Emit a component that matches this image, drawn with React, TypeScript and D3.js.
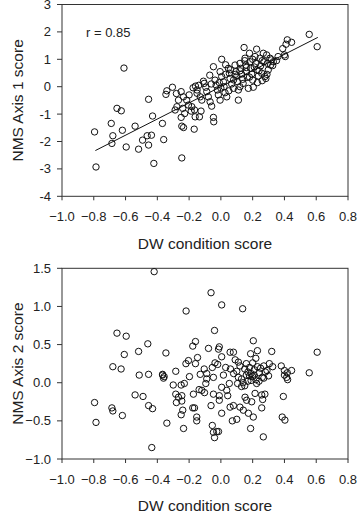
import React from "react";
import * as d3 from "d3";

// ---- Data ----
const topX = [
  -0.795, -0.786, -0.69, -0.68, -0.686, -0.62, -0.596, -0.54, -0.518, -0.493, -0.464, -0.437, -0.455, -0.422, -0.43,
  -0.368, -0.36, -0.246, -0.25, -0.246, -0.235, -0.168, -0.162, -0.135, -0.125, -0.047, -0.045, -0.187,
  -0.654, -0.627, -0.61, -0.455,
  -0.305, -0.34, -0.346, -0.28, -0.25, -0.236, -0.267, -0.277, -0.288, -0.24, -0.215, -0.204, -0.183, -0.166, -0.228,
  -0.175, -0.16, -0.15, -0.15, -0.13, -0.12, -0.11, -0.105, -0.095, -0.089, -0.079, -0.068, -0.058, -0.047, -0.037,
  -0.03, -0.022, -0.016, -0.005, 0.005, -0.005, 0.005, 0.016, 0.02, 0.026, 0.037, 0.047, 0.053, 0.058, 0.068, 0.079,
  0.089, 0.095, 0.1, 0.105, 0.11, 0.11, 0.12, 0.125, 0.13, 0.137, 0.146, 0.152, 0.158, 0.162, 0.166, 0.173, 0.18,
  0.183, 0.187, 0.194, 0.2, 0.204, 0.215, 0.22, 0.225, 0.228, 0.236, 0.246, 0.25, 0.257, 0.267, 0.271, 0.277, 0.283,
  0.288, 0.294, 0.298, 0.309, 0.313, 0.319, 0.326, 0.33,
  0.556, 0.606, 0.418, 0.445, 0.41, 0.389, 0.4, 0.405,
  0.06, 0.14, 0.18, 0.21, 0.24, 0.26, 0.2, 0.03, -0.01, 0.08, 0.12, 0.15, 0.03, -0.07, -0.14, -0.2, -0.06, 0.0, 0.09,
  0.26, 0.23, 0.29, 0.16, 0.12, 0.05, 0.35, 0.36,
];
const topY = [
  -1.65, -2.93, -1.34, -1.79, -2.07, -1.59, -2.2, -1.44, -2.28, -1.95, -1.79, -1.77, -2.13, -2.8, -1.07,
  -1.34, -1.93, -2.6, -1.12, -1.44, -1.49, -1.55, -1.1, -1.1, -0.89, -1.12, -1.28, -0.89,
  -0.79, -0.88, 0.68, -0.46,
  -0.02, -0.15, -0.28, -0.25, -0.18, -0.37, -0.49, -0.73, -0.85, -0.79, -0.49, -0.67, -0.73, -0.85, -0.98,
  -0.04, 0.02, -0.12, -0.24, -0.37, -0.49, 0.2, 0.12, -0.02, -0.18, -0.37, -0.55, -0.71, 0.73, 0.24,
  0.06, -0.12, -0.3, -0.49, 1.0, 0.55, 0.37, 0.18, 0.0, -0.22, -0.37, 0.67, 0.49, 0.3, 0.1, -0.06,
  0.79, 0.55, 0.39, 0.18, -0.12, -0.49, 0.85, 0.67, 0.46, 0.27, 1.43, 1.04, 0.79, 0.55, 0.34, -0.06, 1.22,
  0.91, 0.67, 0.46, 0.24, -0.02, 1.1, 0.85, 1.37, 0.61, 0.39, 1.04, 0.76, 0.49, 1.22, 0.91, 0.37, 0.3,
  1.16, 0.85, 0.61, 1.04, 0.79, 0.98, 0.77, 0.91,
  1.91, 1.46, 1.71, 1.62, 1.55, 1.39, 1.16, 1.1,
  0.62, 0.12, 0.35, 0.72, 0.58, 0.95, 1.0, 0.45, 0.15, 0.25, 0.58, 0.95, 0.8, 0.42, 0.05, -0.3, 0.1, -0.05, 0.45,
  0.22, 0.15, 0.45, 0.7, 0.0, -0.15, 0.95, 1.1,
];

const botX = [
  -0.42, -0.062, 0.005, -0.219, 0.137, -0.04, -0.654, -0.596, -0.46, -0.518, -0.608, -0.346, -0.16, -0.177, -0.078,
  -0.01, -0.015, 0.204, 0.23, 0.187, 0.058, 0.079, 0.32, 0.606, 0.005, -0.147, -0.204, -0.22, -0.16, -0.037, -0.054,
  -0.68, -0.628, -0.514, -0.367, -0.361, -0.284, -0.105, -0.13, 0.4, 0.418, 0.445, 0.556, 0.305, 0.326,
  -0.795, -0.786, -0.686, -0.68, -0.62, -0.54, -0.49, -0.455, -0.43, -0.435, -0.455, -0.367, -0.357, -0.3, -0.284,
  -0.267, -0.28, -0.246, -0.246, -0.25, -0.23, -0.24, -0.25, -0.235, -0.34, -0.198, -0.173, -0.177, -0.166, -0.152,
  -0.152, -0.137, -0.12, -0.103, -0.095, -0.089, -0.089, -0.047, -0.047, -0.062, -0.054, -0.047, -0.04, -0.026,
  -0.015, -0.01, -0.01, 0.005, 0.005, 0.016, 0.037, 0.043, 0.053, 0.058, 0.072, 0.079, 0.1, 0.105, 0.11, 0.12,
  0.141, 0.152, 0.162, 0.173, 0.187, 0.194, 0.204, 0.215, 0.225, 0.257, 0.263, 0.257, 0.267, 0.277, 0.393, 0.386,
  0.403, 0.414,
  0.1, 0.12, 0.13, 0.15, 0.16, 0.17, 0.18, 0.19, 0.2, 0.21, 0.22, 0.24, 0.25, 0.27, 0.28, 0.3, 0.11, 0.14, 0.16,
  0.19, 0.21, 0.23, 0.26, 0.29, 0.08, 0.13, 0.17, 0.2, 0.24, 0.27, 0.06, 0.09, 0.15, 0.18, 0.22, 0.03, -0.02,
  0.4, 0.42, 0.38,
];
const botY = [
  1.456, 1.18, 1.02, 0.94, 0.97, 0.685, 0.65, 0.61, 0.51, 0.41, 0.37, 0.39, 0.54, 0.48, 0.45,
  0.47, 0.44, 0.55, 0.42, 0.38, 0.4, 0.4, 0.41, 0.4, 0.34, 0.33, 0.29, 0.25, 0.25, 0.26, 0.2,
  0.21, 0.18, 0.1, 0.1, 0.06, 0.15, 0.18, 0.11, 0.16, 0.13, 0.16, 0.13, 0.25, 0.21,
  -0.26, -0.52, -0.33, -0.37, -0.43, -0.16, -0.18, -0.3, -0.34, -0.85, 0.11, 0.11, 0.08, -0.03, -0.15,
  -0.19, -0.26, -0.17, -0.24, -0.03, -0.01, -0.36, -0.42, -0.6, -0.53, 0.08, -0.15, -0.33, -0.33, -0.45,
  -0.5, -0.09, -0.1, -0.13, -0.01, 0.12, 0.05, 0.07, -0.15, -0.3, -0.56, -0.65, -0.72, -0.64,
  -0.64, -0.17, -0.23, -0.4, -0.06, 0.1, -0.1, -0.17, -0.01, -0.32, -0.5, -0.3, -0.48, -0.01, 0.07, -0.32,
  -0.36, -0.19, -0.23, -0.4, -0.6, -0.25, -0.45, -0.14, -0.01, -0.16, -0.22, -0.33, -0.71, -0.15, -0.18, -0.45,
  -0.49, 0.07,
  0.15, 0.22, 0.05, 0.18, 0.1, 0.02, 0.2, 0.12, 0.08, 0.17, 0.04, 0.13, 0.19, 0.06, 0.14, 0.09, 0.27, 0.0, 0.25,
  0.03, 0.1, 0.21, 0.07, 0.16, 0.12, -0.05, 0.14, 0.26, 0.02, 0.22, 0.18, 0.3, -0.04, 0.09, 0.32, 0.2, 0.24,
  0.1, 0.04, 0.22,
];

const xTicks = [-1.0, -0.8, -0.6, -0.4, -0.2, 0.0, 0.2, 0.4, 0.6, 0.8];
const topYTicks = [3, 2, 1, 0, -1, -2, -3, -4];
const botYTicks = [1.5, 1.0, 0.5, 0.0, -0.5, -1.0];
const fitSlope = 2.95;
const fitIntercept = 0.0;
const fitRange = [-0.79, 0.61];
const rLabel = "r = 0.85";

const FONT = "'Liberation Sans', Arial, sans-serif";
const AXIS = "#333";
const TXT = "#222";

type PanelProps = {
  top: number;
  bottom: number;
  yDomain: [number, number];
  yTicks: number[];
  yFmt: (v: number) => string;
  xs: number[];
  ys: number[];
  yTitle: string;
  children?: (x: d3.ScaleLinear<number, number>, y: d3.ScaleLinear<number, number>) => React.ReactNode;
};

function Panel({ top, bottom, yDomain, yTicks, yFmt, xs, ys, yTitle, children }: PanelProps) {
  const left = 62;
  const right = 348;
  const x = d3.scaleLinear().domain([-1, 0.8]).range([left, right]);
  const y = d3.scaleLinear().domain(yDomain).range([bottom, top]);
  return (
    <g>
      <rect x={left} y={top} width={right - left} height={bottom - top} fill="none" stroke={AXIS} strokeWidth={1} />
      {yTicks.map((t) => (
        <g key={"y" + t}>
          <line x1={left - 5} x2={left} y1={y(t)} y2={y(t)} stroke={AXIS} />
          <text x={left - 11} y={y(t)} dy="0.35em" textAnchor="end" fontSize={13} fill={TXT} fontFamily={FONT}>
            {yFmt(t)}
          </text>
        </g>
      ))}
      {xTicks.map((t) => (
        <g key={"x" + t}>
          <line x1={x(t)} x2={x(t)} y1={bottom} y2={bottom + 4} stroke={AXIS} />
          <text x={x(t)} y={bottom + 20} dy="0.35em" textAnchor="middle" fontSize={13} fill={TXT} fontFamily={FONT}>
            {d3.format(".1f")(t)}
          </text>
        </g>
      ))}
      <text
        x={(left + right) / 2}
        y={bottom + 47}
        dy="0.35em"
        textAnchor="middle"
        fontSize={15.5}
        fill={TXT}
        fontFamily={FONT}
      >
        DW condition score
      </text>
      <text
        transform={`translate(18,${(top + bottom) / 2}) rotate(-90)`}
        dy="0.35em"
        textAnchor="middle"
        fontSize={15.5}
        fill={TXT}
        fontFamily={FONT}
      >
        {yTitle}
      </text>
      {children && children(x, y)}
      {xs.map((v, i) => (
        <circle key={i} cx={x(v)} cy={y(ys[i])} r={3.2} fill="none" stroke="#111" strokeWidth={1} />
      ))}
    </g>
  );
}

export default function App() {
  return (
    <svg width={357} height={511} style={{ position: "absolute", left: 0, top: 0, background: "#fff" }}>
      <rect width={357} height={511} fill="#fff" />
      <Panel
        top={4.5}
        bottom={196.3}
        yDomain={[-4, 3]}
        yTicks={topYTicks}
        yFmt={(v) => String(v)}
        xs={topX}
        ys={topY}
        yTitle="NMS Axis 1 score"
      >
        {(x, y) => {
          const line = d3
            .line<number>()
            .x((d) => x(d))
            .y((d) => y(fitIntercept + fitSlope * d));
          return (
            <g>
              <path d={line(fitRange) || ""} stroke="#111" strokeWidth={1} fill="none" />
              <text x={86} y={32} dy="0.35em" fontSize={13} fill={TXT} fontFamily={FONT}>
                {rLabel}
              </text>
            </g>
          );
        }}
      </Panel>
      <Panel
        top={268.3}
        bottom={459}
        yDomain={[-1, 1.5]}
        yTicks={botYTicks}
        yFmt={(v) => d3.format(".1f")(v)}
        xs={botX}
        ys={botY}
        yTitle="NMS Axis 2 score"
      />
    </svg>
  );
}
